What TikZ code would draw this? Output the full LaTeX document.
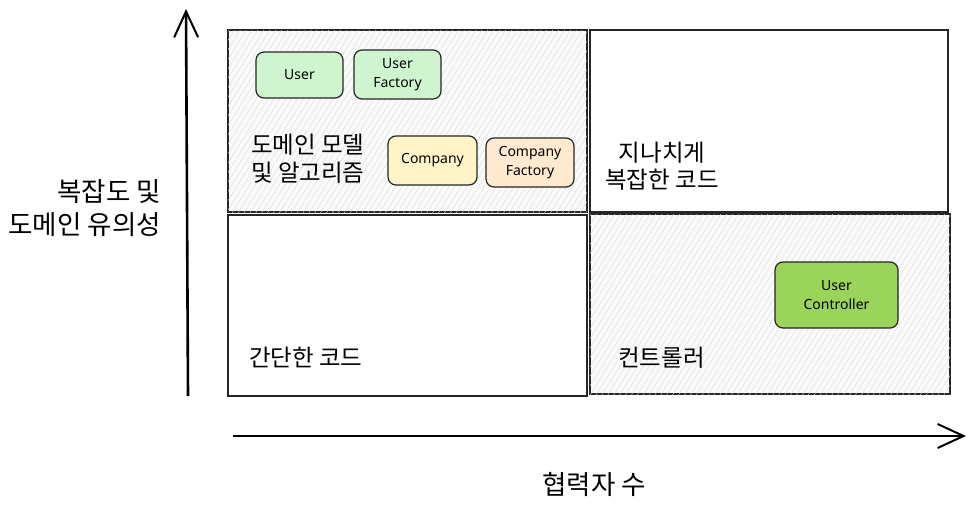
\documentclass[tikz,border=0pt]{standalone}
\usepackage{fontspec}
\setmainfont{Noto Sans CJK KR}
\newfontfamily\cardfont{Noto Sans}
\usetikzlibrary{arrows.meta,patterns.meta}
\definecolor{userfill}{HTML}{CFF5CF}
\definecolor{companyfill}{HTML}{FFF4C8}
\definecolor{factoryfill}{HTML}{FFE9CF}
\definecolor{controllerfill}{HTML}{9BD45A}
\begin{document}
\begin{tikzpicture}[x=1pt,y=-1pt,
    quad/.style={draw=black!85,line width=1.3pt},
    hatched/.style={fill=gray!4,postaction={pattern={Lines[angle=58,distance=5pt,line width=.4pt]},pattern color=gray!28}},
    card/.style={draw=black!85,line width=1.2pt,rounded corners=8pt,align=center,inner sep=0pt,
        font=\cardfont\fontsize{14}{19}\selectfont},
    quadtext/.style={font=\fontsize{23.5}{27.5}\selectfont,inner sep=0pt},
    axistext/.style={font=\fontsize{26.5}{33}\selectfont,inner sep=0pt},
    axis/.style={line width=2.6pt,-{Straight Barb[length=26pt,width=24pt,line width=2pt]}}]
    \useasboundingbox (0,0) rectangle (975,509);
    \draw[quad,hatched] (228,30) rectangle (587,212);
    \draw[quad] (590,30) rectangle (948,212);
    \draw[quad] (228,215) rectangle (587,396);
    \draw[quad,hatched] (590,214) rectangle (950,394);
    \node[card,fill=userfill,minimum width=87,minimum height=46] (user) at (299.5,75) {User};
    \node[card,fill=userfill,minimum width=87,minimum height=49] (userfactory) at (397.5,74.5) {User\\Factory};
    \node[card,fill=companyfill,minimum width=89,minimum height=49] (company) at (432.5,160.5) {Company};
    \node[card,fill=factoryfill,minimum width=88,minimum height=49] (companyfactory) at (530,162.5) {Company\\Factory};
    \node[card,fill=controllerfill,minimum width=123,minimum height=66] (controller) at (836.5,295) {User\\Controller};
    \node[quadtext,align=left,anchor=west] (domain) at (251,158.5) {도메인 모델\\및 알고리즘};
    \node[quadtext,align=center] (overcomplex) at (662,166) {지나치게\\복잡한 코드};
    \node[quadtext,anchor=west] (simple) at (249,357) {간단한 코드};
    \node[quadtext,anchor=west] (controllers) at (618,358) {컨트롤러};
    \node[axistext,align=right,anchor=east] (ylabel) at (161,208.5) {복잡도 및\\도메인 유의성};
    \node[axistext] (xlabel) at (594,484) {협력자 수};
    \coordinate (ybottom) at (188,396);
    \coordinate (ytop) at (186,9);
    \coordinate (xleft) at (233,436);
    \coordinate (xright) at (966,436);
    \draw[axis] (ybottom) -- (ytop);
    \draw[axis] (xleft) -- (xright);
\end{tikzpicture}
\end{document}
